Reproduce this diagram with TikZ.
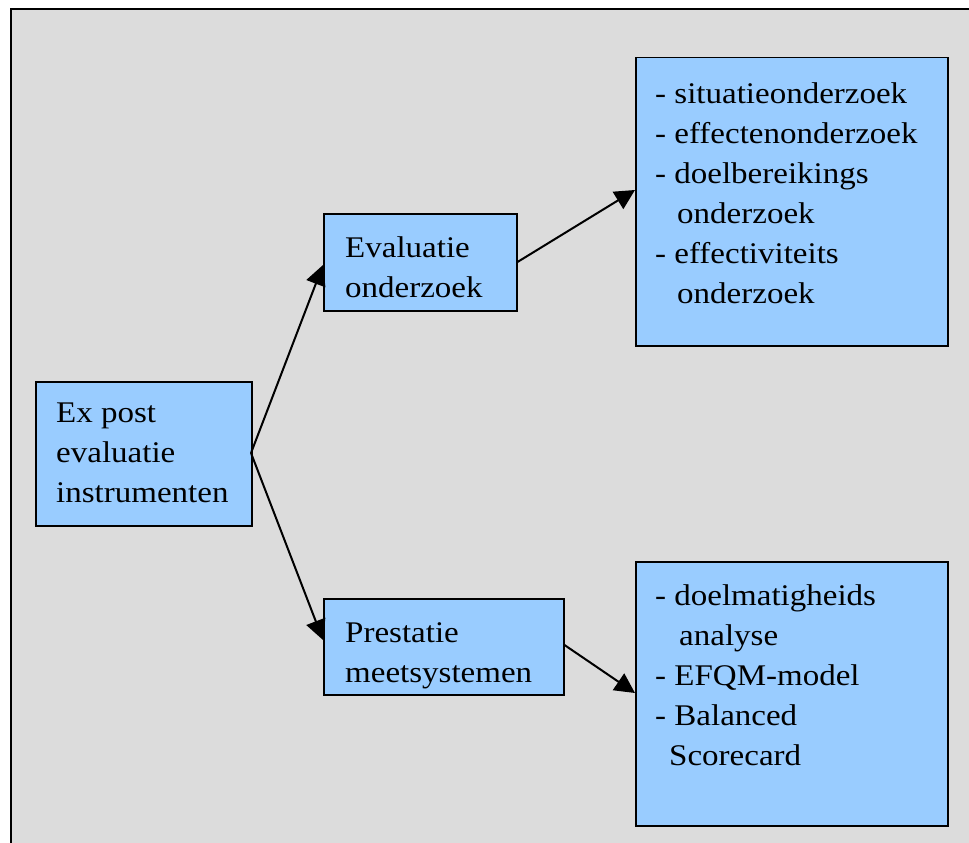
\documentclass[tikz,border=0pt]{standalone}
\usepackage{fontspec}
\setmainfont[FakeStretch=1.1]{Liberation Serif}
\usetikzlibrary{arrows.meta,calc}
\definecolor{bgray}{RGB}{220,220,220}
\definecolor{boxblue}{RGB}{153,204,255}
\tikzset{
  box/.style={draw=black, line width=1.5pt, fill=boxblue, inner sep=0pt, anchor=north west},
  txt/.style={align=left, anchor=north west, inner sep=0pt, font=\fontsize{30pt}{40pt}\selectfont, execute at begin node=\strut},
  conn/.style={line width=2pt, -{Triangle[length=20pt,width=20pt]}, shorten >=0pt},
}
\begin{document}
\begin{tikzpicture}[x=1pt,y=-1pt]
\useasboundingbox (0,0) rectangle (969,843);
\draw[line width=2.2pt, fill=bgray] (11,9) rectangle (990,870);
% boxes
\node[box, minimum width=216pt, minimum height=144pt] (ex) at (35,381) {};
\node[box, minimum width=193pt, minimum height=97pt] (ev) at (323,213) {};
\node[box, minimum width=240pt, minimum height=96pt] (pr) at (323,598) {};
\node[box, minimum width=312pt, minimum height=288pt] (tr) at (635,57) {};
\node[box, minimum width=312pt, minimum height=264pt] (br) at (635,561) {};
% texts
\node[txt] (extxt) at (56,403) {Ex post\\evaluatie\\instrumenten};
\node[txt] (evtxt) at (345,236) {Evaluatie\\onderzoek};
\node[txt] (prtxt) at (345,622) {Prestatie\\meetsystemen};
\node[txt] (trtxt) at (655,82) {- situatieonderzoek\\- effectenonderzoek\\- doelbereikings\\\hspace*{22pt}onderzoek\\- effectiviteits\\\hspace*{22pt}onderzoek};
\node[txt] (brtxt) at (655,584) {- doelmatigheids\\\hspace*{24pt}analyse\\- EFQM-model\\- Balanced\\\hspace*{14pt}Scorecard};
% connectors
\coordinate (exR) at (251,453);
\draw[conn] (exR) -- (ev.west |- 0,265);
\draw[conn] (exR) -- (pr.west |- 0,640);
\draw[conn] (ev.east |- 0,262) -- (tr.west |- 0,190);
\draw[conn] (pr.east |- 0,645) -- (br.west |- 0,693);
\end{tikzpicture}
\end{document}
